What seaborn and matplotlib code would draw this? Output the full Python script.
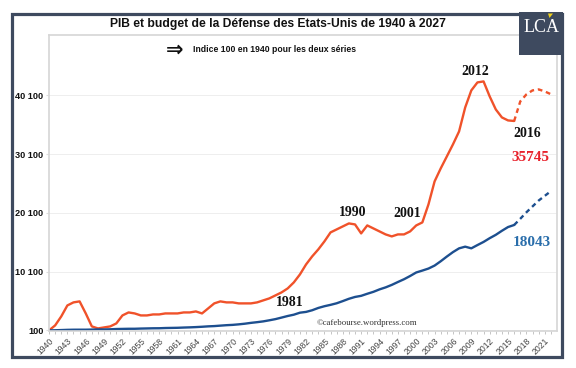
import numpy as np
import pandas as pd
import matplotlib
matplotlib.use("Agg")
import matplotlib.pyplot as plt
import matplotlib.patches as mpatches
import seaborn as sns

# ---------------- data ----------------
years_hist = list(range(1940, 2017))
defense_hist = [100, 950, 2480, 4350, 4870, 5040, 3000, 780, 440, 610,
                780, 1290, 2650, 3160, 2990, 2650, 2650, 2820, 2820, 2990,
                2990, 2990, 3160, 3160, 3330, 2990, 3840, 4700, 5040, 4870,
                4870, 4700, 4700, 4700, 4870, 5210, 5550, 6060, 6570, 7250,
                8270, 9630, 11330, 12700, 13890, 15250, 16780, 17290, 17800, 18310,
                18140, 16610, 17970, 17460, 16950, 16440, 16100, 16440, 16440, 16950,
                17970, 18480, 21550, 25460, 27670, 29710, 31760, 33970, 38050, 40950,
                42310, 42480, 39930, 37710, 36350, 35840, 35745]
gdp_hist = [100, 126, 161, 197, 218, 222, 221, 243, 267, 265,
            291, 337, 357, 378, 380, 414, 437, 461, 468, 507,
            527, 546, 587, 620, 665, 721, 790, 836, 914, 989,
            1043, 1132, 1243, 1385, 1502, 1637, 1821, 2023, 2285, 2553,
            2777, 3117, 3250, 3532, 3924, 4217, 4451, 4718, 5089, 5483,
            5795, 5985, 6337, 6665, 7082, 7425, 7846, 8336, 8808, 9360,
            9962, 10284, 10628, 11135, 11870, 12670, 13426, 14067, 14354, 14070,
            14625, 15160, 15796, 16369, 17057, 17693, 18043]
years_proj = [2016, 2017, 2018, 2019, 2020, 2021, 2022]
defense_proj = [35745, 39080, 40270, 40950, 41120, 40780, 40300]
gdp_proj = [18043, 19100, 20200, 21200, 22200, 23000, 23800]

xtick_years = list(range(1940, 2022, 3))
ytick_values = [100, 10100, 20100, 30100, 40100]
ytick_labels = ["100", "10 100", "20 100", "30 100", "40 100"]

title = "PIB et budget de la Défense des Etats-Unis de 1940 à 2027"
subtitle = "Indice 100 en 1940 pour les deux séries"

RED = "#f0522a"
BLUE = "#1d4f8f"
FRAME = "#3e4a5f"

df_hist = pd.DataFrame({"year": years_hist, "defense": defense_hist, "gdp": gdp_hist})
df_proj = pd.DataFrame({"year": years_proj, "defense": defense_proj, "gdp": gdp_proj})

sns.set_style("white")
plt.rcParams["font.family"] = ["Liberation Sans", "DejaVu Sans"]

W, H = 576, 368
fig = plt.figure(figsize=(W / 100, H / 100), dpi=100)
fig.patch.set_facecolor("white")

def fx(px):
    return px / W

def fy(py):
    return 1 - py / H

ax = fig.add_axes([fx(49), fy(331), fx(557) - fx(49), fy(35) - fy(331)])

sns.lineplot(data=df_hist, x="year", y="defense", ax=ax, color=RED, linewidth=1.7)
sns.lineplot(data=df_hist, x="year", y="gdp", ax=ax, color=BLUE, linewidth=1.7)
sns.lineplot(data=df_proj, x="year", y="defense", ax=ax, color=RED, linewidth=1.7,
             linestyle=(0, (2, 1.6)))
sns.lineplot(data=df_proj, x="year", y="gdp", ax=ax, color=BLUE, linewidth=1.7,
             linestyle=(0, (2, 1.6)))

ax.set_xlim(1940, 2023)
ax.set_ylim(0, 50380)
ax.set_xlabel("")
ax.set_ylabel("")

ax.set_yticks(ytick_values)
ax.set_yticklabels(ytick_labels, fontsize=6.6, fontweight="bold", color="#111111")
ax.set_xticks(xtick_years)
ax.set_xticklabels([str(y) for y in xtick_years], rotation=45, ha="right",
                   rotation_mode="anchor", fontsize=6.2, color="#444444")
ax.set_xticks(list(range(1940, 2023)), minor=True)
ax.tick_params(axis="x", which="both", direction="out", length=2.5, width=0.6,
               color="#bbbbbb", pad=1.5, bottom=True)
ax.tick_params(axis="y", which="both", length=2, color="#dddddd", pad=2, left=True)

ax.yaxis.grid(True, color="#eeeeee", linewidth=0.7)
ax.set_axisbelow(True)
for s in ax.spines.values():
    s.set_color("#d6d6d6")
    s.set_linewidth(1.2)

# annotations
serif = ["Liberation Serif", "DejaVu Serif"]
ax.text(2009.7, 44250, "2012", fontsize=10, fontweight="bold", family=serif,
        ha="center", va="center", color="#111111")
ax.text(2018.2, 33700, "2016", fontsize=10, fontweight="bold", family=serif,
        ha="center", va="center", color="#111111")
ax.text(2018.7, 29600, "35745", fontsize=11, fontweight="bold", family=serif,
        ha="center", va="center", color="#e8212b")
ax.text(2018.9, 14980, "18043", fontsize=11, fontweight="bold", family=serif,
        ha="center", va="center", color="#2a6eab")
ax.text(1989.6, 20250, "1990", fontsize=10, fontweight="bold", family=serif,
        ha="center", va="center", color="#111111")
ax.text(1998.6, 20080, "2001", fontsize=10, fontweight="bold", family=serif,
        ha="center", va="center", color="#111111")
ax.text(1979.4, 4770, "1981", fontsize=10, fontweight="bold", family=serif,
        ha="center", va="center", color="#111111")
ax.text(1992.0, 1360, "©cafebourse.wordpress.com", fontsize=6.3, family=serif,
        ha="center", va="center", color="#333333")

# title / subtitle
fig.text(fx(278), fy(24), title, fontsize=8.7, fontweight="bold", ha="center",
         va="center", color="#111111")
fig.text(fx(175), fy(50), "⇒", fontsize=15, fontweight="bold", ha="center",
         va="center", color="#111111", family=["DejaVu Sans"])
fig.text(fx(193), fy(50), subtitle, fontsize=6.2, fontweight="bold", ha="left",
         va="center", color="#111111")

# outer frame
frame = mpatches.Rectangle((fx(11.5), fy(356.5)), fx(561.5) - fx(11.5),
                           fy(13.5) - fy(356.5), transform=fig.transFigure,
                           fill=False, edgecolor=FRAME, linewidth=2.3, zorder=5)
fig.patches.append(frame)

# logo box
logo = mpatches.Rectangle((fx(519), fy(55)), fx(563) - fx(519), fy(12) - fy(55),
                          transform=fig.transFigure, facecolor=FRAME,
                          edgecolor="none", zorder=6)
fig.patches.append(logo)
fig.text(fx(541.5), fy(28), "LCA", fontsize=13, family=serif, color="white",
         ha="center", va="center", zorder=7)
tri = mpatches.Polygon([(fx(548), fy(13.5)), (fx(553), fy(13.5)), (fx(549.5), fy(18))],
                       closed=True, transform=fig.transFigure, facecolor="#f2d21b",
                       edgecolor="none", zorder=8)
fig.patches.append(tri)

fig.savefig("out.png", dpi=100, facecolor="white")
